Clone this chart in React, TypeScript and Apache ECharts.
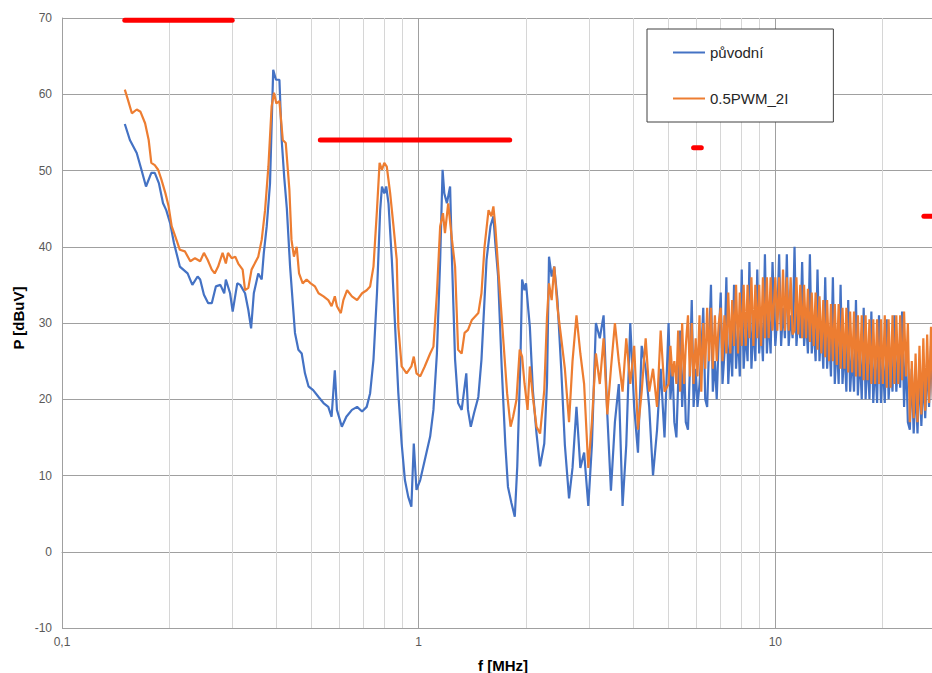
import React, { useEffect, useRef } from 'react';
import * as echarts from 'echarts';

const SERIES_NAMES = ['původní', '0.5PWM_2I'];
const SERIES_COLORS = ['#4472C4', '#ED7D31'];

// Low-frequency part, původní (MHz, dBuV)
const BLUE_LF_FREQ = [
  0.150, 0.155, 0.162, 0.167, 0.172, 0.178, 0.182, 0.187, 0.192, 0.196,
  0.201, 0.206, 0.214, 0.225, 0.232, 0.240, 0.244, 0.250, 0.257, 0.263,
  0.270, 0.278, 0.285, 0.288, 0.296, 0.301, 0.310, 0.316, 0.326, 0.333,
  0.339, 0.345, 0.355, 0.363, 0.368, 0.375, 0.383, 0.391, 0.398, 0.407,
  0.413, 0.420, 0.427, 0.436, 0.450, 0.460, 0.470, 0.480, 0.491, 0.506,
  0.524, 0.541, 0.558, 0.570, 0.582, 0.590, 0.609, 0.627, 0.650, 0.672,
  0.694, 0.715, 0.731, 0.747, 0.764, 0.780, 0.789, 0.801, 0.811, 0.823,
  0.841, 0.859, 0.877, 0.896, 0.915, 0.935, 0.954, 0.969, 0.986, 1.01,
  1.04, 1.077, 1.10, 1.125, 1.149, 1.167, 1.18, 1.20, 1.225, 1.24,
  1.265, 1.29, 1.32, 1.36, 1.375, 1.40, 1.43, 1.47, 1.50, 1.55,
  1.59, 1.62, 1.64, 1.67, 1.71, 1.75, 1.78, 1.82, 1.86, 1.89,
  1.93, 1.95, 1.98, 2.00, 2.03, 2.05, 2.09, 2.14, 2.19, 2.25,
  2.29, 2.32, 2.36, 2.40,
];
const BLUE_LF = [
  56.1, 54.0, 52.3, 50.1, 47.9, 49.7, 49.7, 48.3, 45.7, 44.8,
  43.1, 40.5, 37.4, 36.5, 35.0, 36.1, 35.7, 33.7, 32.6, 32.6,
  34.8, 35.0, 33.9, 35.7, 33.9, 31.5, 35.2, 35.0, 33.9, 31.7,
  29.3, 33.9, 36.5, 35.7, 39.2, 42.7, 48.3, 63.2, 61.9, 61.9,
  54.0, 49.0, 45.0, 37.4, 28.7, 26.5, 26.0, 23.4, 21.7, 21.2,
  20.3, 19.5, 19.0, 17.7, 23.8, 18.6, 16.4, 17.7, 18.6, 19.0,
  18.4, 19.0, 20.8, 25.2, 33.9, 44.8, 47.9, 47.0, 47.9, 45.7,
  38.3, 29.5, 20.8, 14.2, 9.4, 7.2, 5.9, 14.2, 8.1, 9.4,
  12.0, 15.1, 18.6, 26.0, 38.3, 50.1, 47.0, 45.7, 47.9, 38.3,
  25.2, 19.5, 18.6, 23.4, 18.6, 16.4, 18.2, 20.3, 25.2, 38.3,
  42.7, 44.0, 40.5, 36.1, 24.0, 14.0, 8.5, 6.4, 4.6, 11.2,
  25.6, 35.7, 34.3, 35.2, 31.7, 29.5, 21.2, 15.5, 11.2, 14.2,
  22.1, 38.7, 36.1, 37.4,
];

// Low-frequency part, 0.5PWM_2I
const ORANGE_LF_FREQ = [
  0.150, 0.153, 0.157, 0.162, 0.166, 0.171, 0.175, 0.178, 0.182, 0.186,
  0.190, 0.195, 0.199, 0.203, 0.208, 0.214, 0.221, 0.229, 0.236, 0.244,
  0.250, 0.256, 0.263, 0.268, 0.274, 0.282, 0.288, 0.292, 0.299, 0.306,
  0.312, 0.321, 0.326, 0.333, 0.340, 0.347, 0.355, 0.363, 0.371, 0.379,
  0.387, 0.393, 0.399, 0.407, 0.416, 0.424, 0.434, 0.440, 0.447, 0.455,
  0.462, 0.473, 0.485, 0.498, 0.512, 0.524, 0.541, 0.558, 0.570, 0.582,
  0.590, 0.605, 0.615, 0.630, 0.650, 0.672, 0.694, 0.715, 0.731, 0.747,
  0.764, 0.777, 0.789, 0.801, 0.814, 0.832, 0.850, 0.868, 0.877, 0.896,
  0.925, 0.954, 0.969, 0.986, 1.01, 1.04, 1.077, 1.10, 1.125, 1.149,
  1.17, 1.185, 1.21, 1.24, 1.265, 1.29, 1.32, 1.345, 1.375, 1.41,
  1.47, 1.50, 1.53, 1.57, 1.60, 1.62, 1.64, 1.67, 1.73, 1.77,
  1.81, 1.84, 1.88, 1.92, 1.95, 1.98, 2.02, 2.05, 2.09, 2.14,
  2.19, 2.25, 2.29, 2.32, 2.36, 2.40,
];
const ORANGE_LF = [
  60.6, 59.3, 57.5, 58.0, 57.7, 56.2, 54.0, 51.0, 50.7, 50.1,
  48.8, 47.0, 45.3, 42.7, 41.3, 39.6, 39.4, 38.1, 38.5, 38.1,
  39.2, 38.3, 37.0, 36.5, 37.4, 39.2, 37.8, 39.2, 38.5, 38.7,
  37.8, 37.0, 34.3, 34.6, 37.0, 37.8, 38.7, 40.9, 44.8, 50.5,
  58.4, 60.2, 58.8, 59.1, 54.0, 53.6, 47.5, 40.9, 38.7, 40.0,
  36.5, 35.2, 35.7, 35.2, 34.8, 33.9, 33.5, 33.0, 32.2, 33.5,
  32.2, 31.3, 33.0, 34.3, 33.5, 33.0, 33.9, 34.3, 34.8, 37.4,
  44.8, 51.0, 50.1, 51.0, 50.5, 47.0, 42.7, 38.3, 29.5, 24.3,
  23.4, 24.3, 25.6, 23.4, 23.0, 24.3, 26.0, 26.9, 33.9, 42.7,
  44.4, 41.8, 45.7, 40.9, 37.4, 26.5, 26.0, 28.7, 29.1, 30.4,
  31.3, 33.9, 40.0, 44.8, 44.0, 45.3, 42.7, 37.4, 27.3, 20.8,
  16.4, 17.7, 19.9, 26.5, 25.6, 22.1, 18.6, 24.3, 20.3, 16.4,
  15.5, 21.2, 30.8, 35.2, 33.0, 37.4,
];

// High-frequency part (shared frequency points, MHz)
const HF_FREQ = [
  2.45, 2.51, 2.57, 2.64, 2.70, 2.77, 2.84, 2.91, 2.99, 3.06,
  3.14, 3.22, 3.30, 3.38, 3.46, 3.55, 3.64, 3.73, 3.82, 3.92,
  4.02, 4.12, 4.22, 4.33, 4.43, 4.54, 4.66, 4.77, 4.89,
  5.02, 5.08, 5.15, 5.21, 5.28, 5.34, 5.41, 5.48, 5.55, 5.61,
  5.69, 5.76, 5.83, 5.90, 5.98, 6.05, 6.13, 6.20, 6.28, 6.36,
  6.44, 6.52, 6.60, 6.68, 6.77, 6.85, 6.94, 7.03, 7.11, 7.20,
  7.29, 7.38, 7.48, 7.57, 7.66, 7.76, 7.86, 7.95, 8.05, 8.15,
  8.26, 8.36, 8.46, 8.57, 8.68, 8.79, 8.90, 9.01, 9.12, 9.23,
  9.35, 9.47, 9.58, 9.70, 9.82,
  10.00, 10.13, 10.25, 10.38, 10.51, 10.64, 10.77, 10.90, 11.04, 11.18,
  11.32, 11.46, 11.60, 11.75, 11.89, 12.04, 12.19, 12.34, 12.50, 12.65,
  12.81, 12.97, 13.13, 13.30, 13.46, 13.63, 13.80, 13.97, 14.15, 14.32,
  14.50, 14.68, 14.87, 15.05, 15.24, 15.43, 15.62, 15.82, 16.01, 16.21,
  16.42, 16.62, 16.83, 17.04, 17.25, 17.47, 17.69, 17.91, 18.13, 18.36,
  18.59, 18.82, 19.05, 19.29, 19.53, 19.78, 20.02, 20.27, 20.53, 20.78,
  21.04, 21.31, 21.57, 21.84, 22.12, 22.39, 22.67, 22.96, 23.24, 23.53,
  23.83, 24.13, 24.43, 24.73, 25.04, 25.36, 25.67, 26.00, 26.32, 26.65,
  26.98, 27.32, 27.66, 28.01, 28.36, 28.71, 29.07, 29.44, 29.80, 30.18,
  30.55,
];
const BLUE_HF = [
  33, 24, 14, 7, 11, 19, 11, 13, 6, 14,
  30, 28, 31, 18, 8, 17, 22, 6, 14, 30,
  19, 13, 27, 24, 19, 10, 16, 24, 15,
  30, 20, 24, 17, 15, 22, 29, 19, 25, 17,
  16, 24, 33, 19, 24, 19, 22, 26, 32, 20,
  19, 27, 35, 21, 25, 20, 28, 34, 22, 26,
  36, 22, 28, 23, 35, 24, 29, 23, 37, 24,
  29, 25, 38, 24, 30, 25, 37, 26, 30, 25,
  39, 26, 31, 26, 38,
  27, 31, 39, 27, 32, 28, 39, 27, 31, 28,
  40, 27, 31, 28, 38, 27, 31, 26, 39, 26,
  30, 25, 37, 25, 30, 24, 36, 24, 29, 23,
  36, 22, 28, 22, 35, 22, 27, 21, 33, 21,
  26, 21, 33, 20.5, 26, 20, 32, 20, 26, 20,
  31.5, 19.5, 25, 19.5, 31, 19.5, 25, 19.5, 30.5, 20,
  25, 21, 31, 21, 26, 21.5, 31.5, 19, 26, 17,
  16, 24, 15.5, 22, 15.5, 24, 16.5, 23, 17.5, 25,
  19, 27, 20, 28, 21, 28, 21.5, 29, 22, 30,
  22,
];
const ORANGE_HF = [
  32, 28, 24, 17, 25, 31, 26, 22, 11, 17,
  26, 22, 28, 18, 24, 30, 25, 21, 28, 22,
  27, 16, 21, 28, 21, 24, 19, 29, 21,
  22, 27, 23, 25, 22, 29, 21, 30, 22, 27,
  31, 23, 30, 22, 28, 23, 31, 21, 30, 24,
  32, 25, 32, 24, 31, 25, 30, 32, 25, 31,
  26, 34, 26, 33, 27, 35, 26, 34, 27, 35,
  27, 35, 28, 36, 27, 35, 28, 35, 27, 36,
  28, 36, 28, 36, 29,
  36, 29, 36, 29, 37, 29, 36, 29, 36, 28.5,
  29, 36, 28.5, 35, 28, 35, 28, 34.5, 27.5, 34,
  27, 34, 26.5, 33.5, 26, 33, 25.5, 33, 25, 32.5,
  25, 32.5, 24.5, 32.5, 24, 32, 24, 32, 23.5, 31.5,
  23.5, 31.5, 23, 31, 23, 31, 22.5, 31, 22.5, 30.5,
  22, 30.5, 22, 30.5, 22, 30.5, 22, 31, 21.5, 30.5,
  21.5, 31, 22, 31, 22, 31, 22.5, 31.5, 23, 30,
  17, 25, 17.5, 26, 17, 27, 18, 28, 18.5, 28.5,
  19.5, 29.5, 20, 30, 20.5, 30.5, 21, 31, 22, 31,
  22,
];

// Limit lines (red)
const LIMIT_START = [0.15, 0.53, 5.9, 26.1];
const LIMIT_END = [0.3, 1.8, 6.2, 30];
const LIMIT_LEVEL = [69.7, 54, 53, 44];

// Minor logarithmic grid lines
const MINOR_GRID_FREQ = [
  0.2, 0.3, 0.4, 0.5, 0.6, 0.7, 0.8, 0.9,
  2, 3, 4, 5, 6, 7, 8, 9,
  20, 30,
];

const X_MIN = 0.1;
const X_MAX = 30;
const Y_MIN = -10;
const Y_MAX = 70;
const Y_INTERVAL = 10;

const FONT = '"Liberation Sans", Arial, Helvetica, sans-serif';

function zip(f: number[], v: number[]): number[][] {
  return f.map((x, i) => [x, v[i]]);
}

export default function App() {
  const ref = useRef<HTMLDivElement>(null);

  useEffect(() => {
    document.body.style.margin = '0';
    if (!ref.current) return;
    const chart = echarts.init(ref.current, null, { renderer: 'svg' });

    const blueData = zip(BLUE_LF_FREQ, BLUE_LF).concat(zip(HF_FREQ, BLUE_HF));
    const orangeData = zip(ORANGE_LF_FREQ, ORANGE_LF).concat(zip(HF_FREQ, ORANGE_HF));

    const limitSeries = LIMIT_START.map((s, i) => ({
      type: 'line',
      name: 'limit' + i,
      data: [
        [s, LIMIT_LEVEL[i]],
        [LIMIT_END[i], LIMIT_LEVEL[i]],
      ],
      symbol: 'none',
      silent: true,
      z: 5,
      lineStyle: { color: '#ff0000', width: 5, cap: 'round' },
    }));

    const option: any = {
      animation: false,
      textStyle: { fontFamily: FONT },
      grid: {
        left: 62,
        top: 18,
        width: 883.5,
        bottom: 45,
        containLabel: false,
        outerBoundsMode: 'none',
      },
      legend: {
        data: SERIES_NAMES,
        orient: 'vertical',
        left: 647,
        top: 29,
        padding: [16, 45, 16, 26],
        itemGap: 31,
        itemWidth: 32,
        itemHeight: 2,
        icon: 'rect',
        backgroundColor: '#ffffff',
        borderColor: '#404040',
        borderWidth: 1,
        borderRadius: 0,
        textStyle: { fontSize: 15, color: '#262626', fontFamily: FONT },
      },
      xAxis: {
        type: 'log',
        logBase: 10,
        min: X_MIN,
        max: X_MAX,
        axisLine: { show: true, lineStyle: { color: '#a0a0a0', width: 1 } },
        axisTick: { show: false },
        axisLabel: {
          color: '#595959',
          fontSize: 12,
          margin: 8,
          showMaxLabel: false,
          formatter: (v: number) => String(Number(v.toPrecision(6))).replace('.', ','),
        },
        splitLine: { show: true, lineStyle: { color: '#a0a0a0', width: 1 } },
      },
      yAxis: {
        type: 'value',
        min: Y_MIN,
        max: Y_MAX,
        interval: Y_INTERVAL,
        axisLine: { show: true, lineStyle: { color: '#a0a0a0', width: 1 } },
        axisTick: { show: false },
        axisLabel: { color: '#595959', fontSize: 12, margin: 10 },
        splitLine: { show: true, lineStyle: { color: '#a0a0a0', width: 1 } },
      },
      series: [
        {
          type: 'line',
          name: 'grid',
          data: [],
          silent: true,
          z: 1,
          markLine: {
            silent: true,
            z: 1,
            symbol: ['none', 'none'],
            label: { show: false },
            lineStyle: { color: '#d6d6d6', width: 1, type: 'solid' },
            emphasis: { disabled: true },
            data: MINOR_GRID_FREQ.map((f) => ({ xAxis: f })),
          },
        },
        {
          type: 'line',
          name: SERIES_NAMES[0],
          data: blueData,
          symbol: 'none',
          showSymbol: false,
          z: 2,
          color: SERIES_COLORS[0],
          lineStyle: { color: SERIES_COLORS[0], width: 2.2 },
        },
        {
          type: 'line',
          name: SERIES_NAMES[1],
          data: orangeData,
          symbol: 'none',
          showSymbol: false,
          z: 3,
          color: SERIES_COLORS[1],
          lineStyle: { color: SERIES_COLORS[1], width: 2.2 },
        },
        ...limitSeries,
      ],
      graphic: [
        {
          type: 'text',
          x: 18,
          y: 318,
          rotation: Math.PI / 2,
          style: {
            text: 'P [dBuV]',
            font: 'bold 15px ' + FONT,
            fill: '#000000',
            align: 'center',
            verticalAlign: 'middle',
          },
        },
        {
          type: 'text',
          x: 503,
          y: 665,
          style: {
            text: 'f [MHz]',
            font: 'bold 15px ' + FONT,
            fill: '#000000',
            align: 'center',
            verticalAlign: 'middle',
          },
        },
      ],
    };

    chart.setOption(option);
    return () => chart.dispose();
  }, []);

  return <div ref={ref} style={{ width: 932, height: 673 }} />;
}
